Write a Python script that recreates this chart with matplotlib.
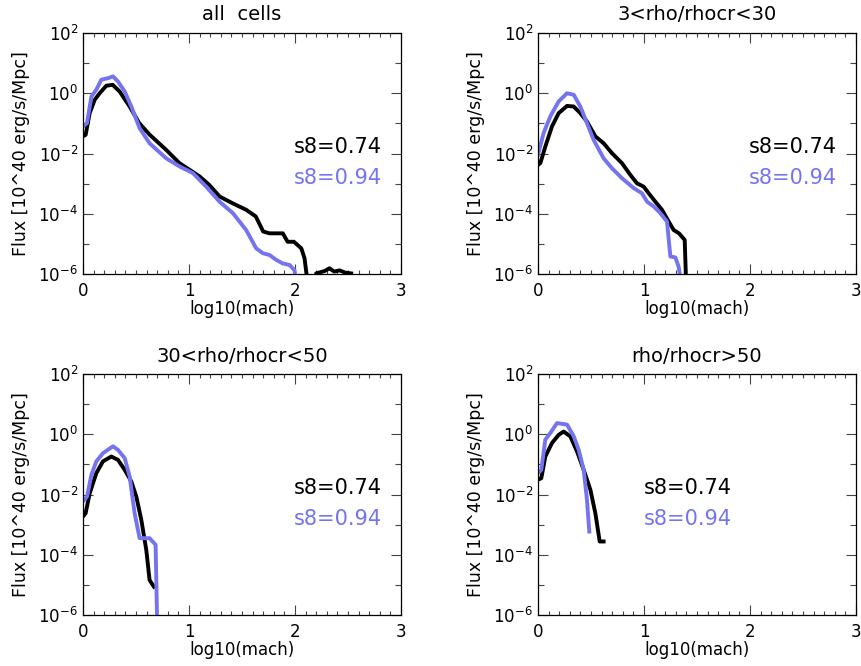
import numpy as np
import matplotlib
matplotlib.use("Agg")
import matplotlib.pyplot as plt
from matplotlib.ticker import MultipleLocator, LogLocator, NullFormatter

# log10(mach) positions and log10(flux) values
all_x_k = [0.0, 0.025, 0.063, 0.11, 0.157, 0.22, 0.28, 0.345, 0.44, 0.53, 0.63,
           0.785, 0.91, 1.005, 1.10, 1.19, 1.29, 1.41, 1.54, 1.63, 1.70, 1.76,
           1.885, 1.93, 1.99, 2.06, 2.09, 2.13, 2.18, 2.20, 2.28, 2.325, 2.37,
           2.42, 2.47, 2.53]
all_y_k = [-1.43, -1.38, -0.66, -0.22, 0.0, 0.25, 0.28, 0.06, -0.44, -0.99, -1.38,
           -1.88, -2.32, -2.54, -2.76, -3.04, -3.43, -3.65, -3.87, -4.09, -4.59,
           -4.65, -4.65, -4.93, -4.93, -5.15, -5.48, -6.6, -6.6, -5.98, -5.90,
           -5.81, -5.92, -5.88, -5.95, -5.98]
all_x_b = [0.0, 0.038, 0.079, 0.126, 0.173, 0.236, 0.283, 0.330, 0.393, 0.456,
           0.534, 0.628, 0.785, 0.911, 1.037, 1.162, 1.288, 1.414, 1.539, 1.634,
           1.697, 1.760, 1.822, 1.885, 1.948, 1.995, 2.02]
all_y_b = [-1.10, -0.99, -0.11, 0.12, 0.45, 0.50, 0.56, 0.39, 0.06, -0.44,
           -1.16, -1.66, -2.16, -2.43, -2.65, -3.10, -3.60, -3.98, -4.54, -5.15,
           -5.31, -5.37, -5.53, -5.65, -5.70, -5.87, -6.5]

lo_x_k = [0.0, 0.022, 0.069, 0.132, 0.195, 0.274, 0.337, 0.399, 0.462, 0.541,
          0.619, 0.698, 0.792, 0.871, 0.934, 0.997, 1.044, 1.107, 1.170, 1.233,
          1.28, 1.33, 1.384, 1.40]
lo_y_k = [-2.38, -2.32, -1.77, -1.10, -0.66, -0.42, -0.44, -0.66, -0.94, -1.43,
          -1.66, -1.99, -2.32, -2.71, -2.99, -3.10, -3.32, -3.60, -3.87, -4.26,
          -4.54, -4.65, -4.87, -6.6]
lo_x_b = [0.0, 0.053, 0.116, 0.195, 0.274, 0.337, 0.399, 0.462, 0.525, 0.619,
          0.698, 0.792, 0.903, 0.981, 1.029, 1.092, 1.154, 1.217, 1.249, 1.296,
          1.327, 1.35]
lo_y_b = [-2.04, -1.32, -0.77, -0.27, 0.0, -0.05, -0.44, -0.99, -1.55, -2.16,
          -2.49, -2.82, -3.15, -3.32, -3.60, -3.76, -3.98, -4.26, -5.42, -5.45,
          -5.76, -6.3]

mid_x_k = [0.0, 0.025, 0.063, 0.126, 0.188, 0.267, 0.330, 0.393, 0.456, 0.503,
           0.550, 0.597, 0.628, 0.669]
mid_y_k = [-2.73, -2.62, -1.96, -1.29, -0.90, -0.74, -0.85, -1.18, -1.57, -2.07,
           -2.84, -3.84, -4.84, -5.06]
mid_x_b = [0.0, 0.038, 0.079, 0.126, 0.188, 0.283, 0.330, 0.393, 0.440, 0.487,
           0.534, 0.628, 0.685, 0.698, 0.71]
mid_y_b = [-2.23, -2.07, -1.35, -0.90, -0.63, -0.40, -0.52, -0.79, -1.40, -2.62,
           -3.45, -3.45, -3.67, -6.0, -6.5]

hi_x_k = [0.0, 0.031, 0.069, 0.132, 0.195, 0.242, 0.305, 0.368, 0.431, 0.494,
          0.541, 0.582, 0.619]
hi_y_k = [-1.51, -1.46, -0.74, -0.29, -0.02, 0.09, -0.07, -0.57, -1.18, -1.84,
          -2.62, -3.56, -3.56]
hi_x_b = [0.0, 0.031, 0.069, 0.116, 0.179, 0.274, 0.337, 0.384, 0.431, 0.462,
          0.484]
hi_y_b = [-1.29, -1.18, -0.18, 0.04, 0.37, 0.32, -0.07, -0.52, -1.18, -2.18,
          -3.23]

titles = ["all  cells", "3<rho/rhocr<30", "30<rho/rhocr<50", "rho/rhocr>50"]
series = [
    (all_x_k, all_y_k, all_x_b, all_y_b),
    (lo_x_k, lo_y_k, lo_x_b, lo_y_b),
    (mid_x_k, mid_y_k, mid_x_b, mid_y_b),
    (hi_x_k, hi_y_k, hi_x_b, hi_y_b),
]
label_k = "s8=0.74"
label_b = "s8=0.94"

BLUE = "#7474f0"
W, H = 861, 666

# axes boxes in pixels: left, top, right, bottom
boxes = [(83, 33, 401, 274), (538, 33, 856, 274),
         (83, 374, 401, 615), (538, 374, 856, 615)]
text_pos = [(0.94, "right"), (0.94, "right"), (0.94, "right"), (0.334, "left")]

fig = plt.figure(figsize=(W / 100, H / 100), dpi=100)

for i, (l, t, r, b) in enumerate(boxes):
    ax = fig.add_axes([l / W, 1 - b / H, (r - l) / W, (b - t) / H])
    xk, yk, xb, yb = series[i]
    ax.plot(xk, 10.0 ** np.array(yk), color="black", lw=2.8)
    ax.plot(xb, 10.0 ** np.array(yb), color=BLUE, lw=2.8)
    ax.set_yscale("log")
    ax.set_xlim(0, 3)
    ax.set_ylim(1e-6, 1e2)
    ax.xaxis.set_major_locator(MultipleLocator(1))
    ax.xaxis.set_minor_locator(MultipleLocator(0.1))
    ax.yaxis.set_major_locator(LogLocator(base=100.0, numticks=10))
    ax.yaxis.set_minor_locator(LogLocator(base=10.0, numticks=20))
    ax.yaxis.set_minor_formatter(NullFormatter())
    ax.tick_params(which="both", direction="in", top=True, right=True,
                   labelsize=12, width=0.8, color="#444444")
    ax.tick_params(which="major", length=7)
    ax.tick_params(which="minor", length=4)
    ax.tick_params(axis="x", which="minor", length=3)
    ax.tick_params(axis="x", which="major", pad=6)
    for s in ax.spines.values():
        s.set_linewidth(0.9)
    ax.set_title(titles[i], fontsize=14, pad=9)
    ax.set_xlabel("log10(mach)", fontsize=12, labelpad=0)
    ax.set_ylabel("Flux [10^40 erg/s/Mpc]", fontsize=12.5, labelpad=6)
    tx, ha = text_pos[i]
    ax.text(tx, 0.525, label_k, transform=ax.transAxes, ha=ha, va="center",
            fontsize=15, color="black")
    ax.text(tx, 0.40, label_b, transform=ax.transAxes, ha=ha, va="center",
            fontsize=15, color=BLUE)

fig.savefig("out.png", dpi=100)
